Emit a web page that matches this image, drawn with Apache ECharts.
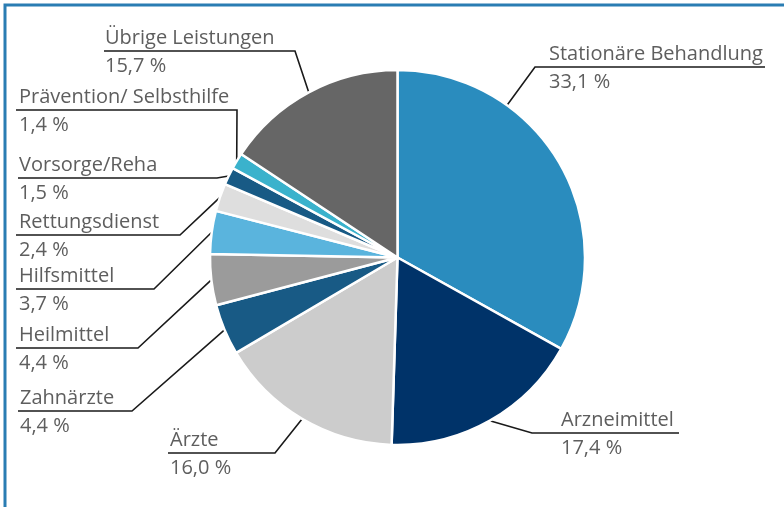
<!DOCTYPE html>
<html>
<head>
<meta charset="utf-8">
<script src="https://cdn.jsdelivr.net/npm/echarts@6/dist/echarts.min.js"></script>
<style>
html,body{margin:0;padding:0;background:#fff;}
#main{width:784px;height:507px;}
</style>
</head>
<body>
<div id="main"></div>
<script>
// ---- data ----
var categories = ['Stationäre Behandlung','Arzneimittel','Ärzte','Zahnärzte','Heilmittel','Hilfsmittel','Rettungsdienst','Vorsorge/Reha','Prävention/ Selbsthilfe','Übrige Leistungen'];
var shares = [33.1, 17.4, 16.0, 4.4, 4.4, 3.7, 2.4, 1.5, 1.4, 15.7];

// ---- styles / layout ----
var colors = ['#2a8cbe','#003369','#cccccc','#185a85','#9b9b9b','#5ab4dd','#dedede','#185a85','#3ab2cc','#666666'];
// [textX, underlineY, underlineFarX, elbowX, anchorFraction]
var labelLayoutCfg = [
  [549, 67, 765, 535, 0.30],
  [561, 433, 679, 532, 0.5],
  [170, 453, 168, 275, 0.5],
  [20, 411, 18, 132, 0.5],
  [19, 348, 16, 138, 0.5],
  [19, 289, 16, 154, 0.5],
  [19, 235, 16, 180, 0.5],
  [19, 178, 18, 217, 0.5],
  [19, 110, 16, 237, 0.5],
  [105, 51, 104, 295, 0.5]
];
var CX = 397.5, CY = 257.5, R = 187.5;

function fmt(v){ return v.toFixed(1).replace('.', ',') + ' %'; }

var total = shares.reduce(function(a,b){return a+b;},0);
var starts = [];
(function(){ var acc = 0; for (var i=0;i<shares.length;i++){ starts.push(acc); acc += shares[i]; } })();

function anchorPoint(i){
  var f = labelLayoutCfg[i][4];
  var ang = (starts[i] + shares[i]*f) / total * 2*Math.PI; // clockwise from top
  return [CX + R*Math.sin(ang), CY - R*Math.cos(ang)];
}

var chart = echarts.init(document.getElementById('main'), null, {renderer:'canvas'});
var data = categories.map(function(c,i){
  return {name:c, value:shares[i], itemStyle:{color:colors[i]}};
});

chart.setOption({
  animation:false,
  backgroundColor:'#ffffff',
  graphic:[{
    type:'rect', shape:{x:5, y:5, width:820, height:540},
    style:{fill:'none', stroke:'#2a7db3', lineWidth:3}, z:0
  }],
  series:[{
    type:'pie',
    center:[CX, CY],
    radius:R,
    startAngle:90,
    clockwise:true,
    avoidLabelOverlap:false,
    data:data,
    itemStyle:{borderColor:'#ffffff', borderWidth:2.5},
    emphasis:{disabled:true},
    label:{
      show:true,
      position:'outer',
      formatter:function(p){ return '{n|' + p.name + '}\n{v|' + fmt(p.value) + '}'; },
      rich:{
        n:{fontFamily:'Open Sans', fontSize:20, color:'#5e5e5e', lineHeight:26},
        v:{fontFamily:'Open Sans', fontSize:20, color:'#5e5e5e', lineHeight:30}
      }
    },
    labelLine:{show:true, lineStyle:{color:'#1a1a1a', width:1.6}},
    labelLayout:function(p){
      var i = p.dataIndex;
      var c = labelLayoutCfg[i];
      var a = anchorPoint(i);
      var elbowX = c[3];
      return {
        x:c[0], y:c[1]-26, align:'left', verticalAlign:'top',
        labelLinePoints:[a, [elbowX, c[1]], [c[2], c[1]]]
      };
    }
  }]
});
</script>
</body>
</html>
